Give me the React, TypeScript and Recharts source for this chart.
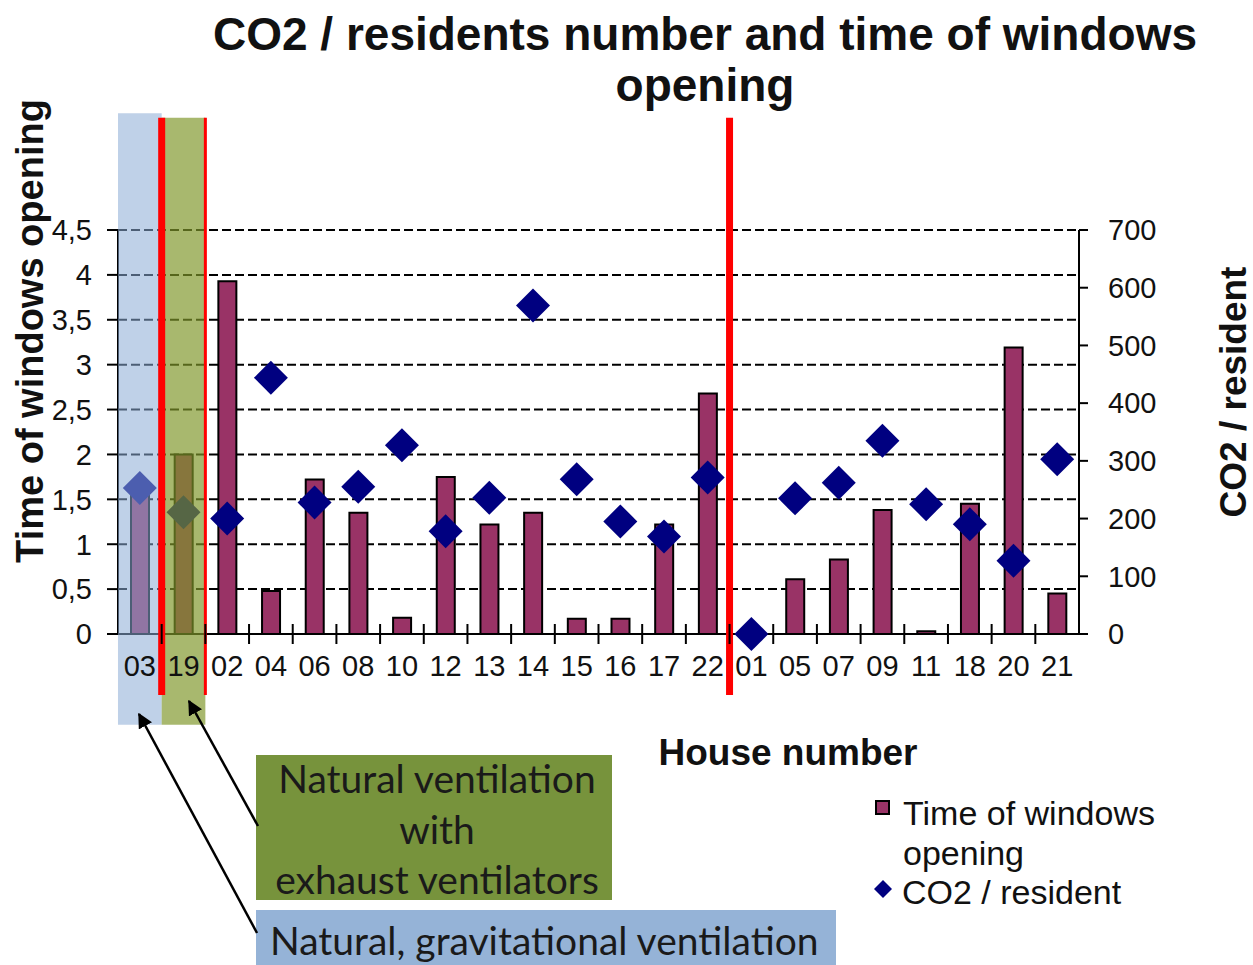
import {
  ComposedChart, Bar, Scatter, XAxis, YAxis, CartesianGrid,
  ReferenceArea, ReferenceLine, Legend,
} from 'recharts'

const houses = ['03', '19', '02', '04', '06', '08', '10', '12', '13', '14', '15', '16', '17', '22', '01', '05', '07', '09', '11', '18', '20', '21']
const windowTime = [1.6, 2.0, 3.93, 0.48, 1.72, 1.35, 0.18, 1.75, 1.22, 1.35, 0.17, 0.17, 1.22, 2.68, 0, 0.61, 0.83, 1.38, 0.03, 1.45, 3.19, 0.45]
const co2PerResident = [253, 211, 200, 444, 228, 255, 327, 178, 236, 569, 268, 195, 169, 271, 0, 235, 262, 335, 225, 190, 127, 303]
const leftTicks = [0, 0.5, 1, 1.5, 2, 2.5, 3, 3.5, 4, 4.5]
const rightTicks = [0, 100, 200, 300, 400, 500, 600, 700]

const rows = houses.map((h, i) => ({ house: h, time: windowTime[i], co2: co2PerResident[i] }))

const FONT = '"Liberation Sans", Arial, sans-serif'
const CALLOUT_FONT = 'Lato, "Open Sans", sans-serif'
const PLUM = '#993366'
const NAVY = '#000080'

const X_TICK_SIZE = 6
const X_TICK_MARGIN = 15

function Diamond(props: any) {
  const { cx, cy } = props
  const r = 17
  return (
    <polygon
      points={`${cx},${cy - r} ${cx + r},${cy} ${cx},${cy + r} ${cx - r},${cy}`}
      fill={NAVY}
    />
  )
}

// house label plus a cross tick on the boundary to its right
function HouseTick(props: any) {
  const { x, y, payload, index } = props
  const axisY = y - X_TICK_SIZE - X_TICK_MARGIN
  const half = payload.offset ?? 0
  const last = index === houses.length - 1
  return (
    <g>
      {!last && (
        <line x1={x + half} x2={x + half} y1={axisY - 10} y2={axisY + 10} stroke="#000" strokeWidth={2} />
      )}
      <text x={x} y={y} dy={21} textAnchor="middle" fontSize={29} fill="#111">
        {payload.value}
      </text>
    </g>
  )
}

function LegendBox() {
  return (
    <svg width={340} height={130} style={{ fontFamily: FONT, display: 'block' }}>
      <rect x={7} y={12} width={13} height={13} fill={PLUM} stroke="#000" strokeWidth={2} />
      <text x={34} y={36} fontSize={34} fill="#111">Time of windows</text>
      <text x={34} y={76} fontSize={34} fill="#111">opening</text>
      <polygon points="14,91 23,100 14,109 5,100" fill={NAVY} />
      <text x={33} y={115} fontSize={34} fill="#111">CO2 / resident</text>
    </svg>
  )
}

export default function App() {
  return (
    <div style={{ position: 'absolute', left: 0, top: 0, width: 1253, height: 965, background: '#fff', overflow: 'hidden' }}>
      <ComposedChart
        width={1253}
        height={965}
        data={rows}
        margin={{ top: 230, right: 0, left: 0, bottom: 271 }}
        style={{ fontFamily: FONT }}
      >
        <CartesianGrid
          yAxisId="left"
          vertical={false}
          stroke="#000"
          strokeWidth={2}
          strokeDasharray="9 4"
        />
        <XAxis
          dataKey="house"
          interval={0}
          height={60}
          tickLine={false}
          tickSize={X_TICK_SIZE}
          tickMargin={X_TICK_MARGIN}
          axisLine={{ stroke: '#000', strokeWidth: 2 }}
          tick={<HouseTick />}
        />
        <YAxis
          yAxisId="left"
          width={118}
          domain={[0, 4.5]}
          ticks={leftTicks}
          interval={0}
          tickFormatter={(v: number) => String(v).replace('.', ',')}
          tick={{ fontSize: 29, fill: '#111' }}
          tickSize={11}
          tickMargin={15}
          tickLine={{ stroke: '#000', strokeWidth: 2 }}
          axisLine={{ stroke: '#000', strokeWidth: 2 }}
        />
        <YAxis
          yAxisId="right"
          orientation="right"
          width={174}
          domain={[0, 700]}
          ticks={rightTicks}
          interval={0}
          tick={{ fontSize: 29, fill: '#111' }}
          tickSize={9}
          tickMargin={20}
          tickLine={{ stroke: '#000', strokeWidth: 2 }}
          axisLine={{ stroke: '#000', strokeWidth: 2 }}
        />
        <Bar
          yAxisId="left"
          dataKey="time"
          barSize={18}
          fill={PLUM}
          stroke="#000"
          strokeWidth={2}
          isAnimationActive={false}
        />
        <Scatter
          yAxisId="right"
          dataKey="co2"
          shape={Diamond}
          isAnimationActive={false}
        />
        <ReferenceArea
          yAxisId="left"
          x1="03"
          x2="03"
          y1={-1.01}
          y2={5.8}
          ifOverflow="visible"
          fill="#8AACD5"
          fillOpacity={0.55}
          stroke="none"
          zIndex={1500}
        />
        <ReferenceArea
          yAxisId="left"
          x1="19"
          x2="19"
          y1={-1.01}
          y2={5.75}
          ifOverflow="visible"
          fill="#7F962A"
          fillOpacity={0.68}
          stroke="none"
          zIndex={1500}
        />
        <ReferenceLine
          yAxisId="left"
          segment={[{ x: '19', y: 5.75 }, { x: '19', y: -0.68 }]}
          position="start"
          ifOverflow="visible"
          stroke="#ff0000"
          strokeWidth={7}
          zIndex={1600}
        />
        <ReferenceLine
          yAxisId="left"
          segment={[{ x: '02', y: 5.75 }, { x: '02', y: -0.68 }]}
          position="start"
          ifOverflow="visible"
          stroke="#ff0000"
          strokeWidth={3}
          zIndex={1600}
        />
        <ReferenceLine
          yAxisId="left"
          segment={[{ x: '01', y: 5.75 }, { x: '01', y: -0.68 }]}
          position="start"
          ifOverflow="visible"
          stroke="#ff0000"
          strokeWidth={7}
          zIndex={1600}
        />
        <Legend
          layout="vertical"
          align="center"
          verticalAlign="middle"
          content={() => <LegendBox />}
          wrapperStyle={{ position: 'absolute', left: 869, top: 789, width: 340, height: 130 }}
        />
      </ComposedChart>

      <svg
        width={1253}
        height={965}
        style={{ position: 'absolute', left: 0, top: 0, pointerEvents: 'none', fontFamily: FONT }}
      >
        <defs>
          <marker id="arrowHead" viewBox="0 0 10 10" refX={9} refY={5} markerWidth={6} markerHeight={6} orient="auto">
            <path d="M0,0 L10,5 L0,10 z" fill="#000" />
          </marker>
        </defs>
        <text x={705} y={50} fontSize={46} fontWeight="bold" textAnchor="middle" fill="#111">
          CO2 / residents number and time of windows
        </text>
        <text x={705} y={101} fontSize={46} fontWeight="bold" textAnchor="middle" fill="#111">
          opening
        </text>
        <text transform="translate(43,331) rotate(-90)" fontSize={38} fontWeight="bold" textAnchor="middle" fill="#111">
          Time of windows opening
        </text>
        <text transform="translate(1246,392) rotate(-90)" fontSize={37} fontWeight="bold" textAnchor="middle" fill="#111">
          CO2 / resident
        </text>
        <text x={788} y={765} fontSize={37} fontWeight="bold" textAnchor="middle" fill="#111">
          House number
        </text>

        <rect x={256} y={755} width={356} height={145} fill="#77933C" />
        <g fontFamily={CALLOUT_FONT} fontSize={39} fill="#1a1a1a" textAnchor="middle">
          <text x={437} y={793}>Natural ventilation</text>
          <text x={437} y={844}>with</text>
          <text x={437} y={894}>exhaust ventilators</text>
        </g>
        <rect x={256} y={910} width={580} height={60} fill="#95B3D7" />
        <text x={270} y={955} fontFamily={CALLOUT_FONT} fontSize={39} fill="#1a1a1a">
          Natural, gravitational ventilation
        </text>

        <line x1={257} y1={933} x2={139} y2={714} stroke="#000" strokeWidth={2.5} markerEnd="url(#arrowHead)" />
        <line x1={258} y1={826} x2={189} y2={701} stroke="#000" strokeWidth={2.5} markerEnd="url(#arrowHead)" />
      </svg>
    </div>
  )
}
